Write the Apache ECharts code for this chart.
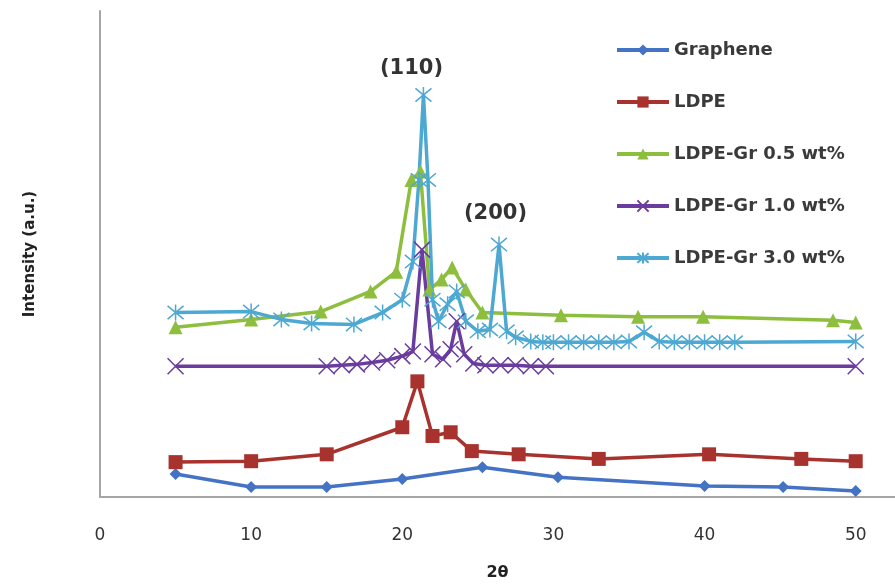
<!DOCTYPE html>
<html>
<head>
<meta charset="utf-8">
<script src="https://cdn.jsdelivr.net/npm/echarts/dist/echarts.min.js"></script>
<style>
html, body { margin: 0; background: #fff; }
#main { width: 895px; height: 586px; }
</style>
</head>
<body>
<div id="main"></div>
<script>
// 数据：[2θ, 强度]
var seriesNames = ['Graphene', 'LDPE', 'LDPE-Gr 0.5 wt%', 'LDPE-Gr 1.0 wt%', 'LDPE-Gr 3.0 wt%'];
var xTicks = [0, 10, 20, 30, 40, 50];

var graphene = [[5, 5.0], [10, 2.2], [15, 2.2], [20, 3.9], [25.3, 6.5], [30.3, 4.3], [40, 2.4], [45.2, 2.2], [50, 1.3]];
var ldpe = [[5, 7.6], [10, 7.8], [15, 9.3], [20, 15.2], [21, 25.2], [22, 13.3], [23.2, 14.1], [24.6, 10.0],
            [27.7, 9.3], [33, 8.3], [40.3, 9.3], [46.4, 8.3], [50, 7.8]];
var gr05 = [[5, 37.0], [10, 38.7], [14.6, 40.4], [17.9, 44.8], [19.6, 49.1], [20.6, 69.1], [21.2, 70.9],
            [21.8, 45.2], [22.6, 47.4], [23.3, 50.0], [24.2, 45.2], [25.3, 40.2], [30.5, 39.6], [35.6, 39.3],
            [39.9, 39.3], [48.5, 38.5], [50, 38.0]];
var gr10 = [[5, 28.5], [15, 28.5], [16, 28.7], [17, 28.9], [18, 29.3], [19, 29.8], [20, 30.7], [20.7, 31.7],
            [21.3, 53.9], [22, 31.1], [22.7, 30.0], [23.2, 32.2], [23.6, 38.3], [24.1, 31.1], [24.7, 29.1],
            [25.5, 28.7], [26.5, 28.7], [27.5, 28.7], [28.5, 28.5], [29.5, 28.5], [50, 28.5]];
var gr30 = [[5, 40.2], [10, 40.4], [12, 38.7], [14, 37.8], [16.8, 37.6], [18.7, 40.2], [20, 43.0], [20.7, 51.3],
            [21.1, 69.1], [21.4, 87.6], [21.7, 69.1], [22, 43.0], [22.4, 38.3], [23, 42.0], [23.6, 44.8],
            [24.2, 38.3], [25, 36.1], [25.8, 36.5], [26.4, 55.0], [26.9, 36.1], [27.5, 34.8], [28.5, 33.9],
            [29.3, 33.7], [30, 33.7], [31, 33.7], [32, 33.7], [33, 33.7], [34, 33.7], [35, 33.9], [36, 35.9],
            [37, 33.9], [38, 33.7], [39, 33.7], [40, 33.7], [41, 33.7], [42, 33.7], [50, 33.9]];

var seriesData = [graphene, ldpe, gr05, gr10, gr30];
var colors = ['#4472C4', '#A8322D', '#8DBE3E', '#6A3C9E', '#4DA8D2'];
var symbols = [
    'diamond',
    'rect',
    'triangle',
    'path://M0,0L10,10M10,0L0,10',
    'path://M0,0L10,10M10,0L0,10M5,-1L5,11'
];
var symbolSizes = [12, 14, 14, 16, 16];

var myChart = echarts.init(document.getElementById('main'));

var series = seriesNames.map(function (name, i) {
    return {
        name: name,
        type: 'line',
        data: seriesData[i],
        symbol: symbols[i],
        symbolSize: symbolSizes[i],
        showAllSymbol: true,
        lineStyle: { color: colors[i], width: 3.5 },
        itemStyle: { color: colors[i], borderColor: colors[i], borderWidth: i >= 3 ? 1.5 : 0 }
    };
});

option = {
    animation: false,
    color: colors,
    grid: { left: 100, right: 0, top: 11, bottom: 88 },
    legend: {
        orient: 'vertical',
        left: 610,
        top: 36,
        itemWidth: 52,
        itemHeight: 14,
        itemGap: 34,
        selectedMode: false,
        lineStyle: { width: 4 },
        textStyle: { fontFamily: 'DejaVu Sans', fontSize: 18, fontWeight: 'bold', color: '#3a3a3a' },
        data: seriesNames
    },
    xAxis: {
        type: 'value',
        min: 0,
        max: 52.6,
        interval: 10,
        name: '2θ',
        nameLocation: 'middle',
        nameGap: 68,
        nameTextStyle: { fontFamily: 'DejaVu Sans', fontSize: 16, fontWeight: 'bold', color: '#222' },
        axisLine: { lineStyle: { color: '#a6a6a6', width: 2 } },
        axisTick: { show: false },
        splitLine: { show: false },
        axisLabel: {
            showMaxLabel: false,
            margin: 30,
            fontFamily: 'DejaVu Sans',
            fontSize: 17,
            color: '#333',
            formatter: function (v) { return xTicks.indexOf(v) >= 0 ? String(v) : ''; }
        }
    },
    yAxis: {
        type: 'value',
        min: 0,
        max: 105.9,
        name: 'Intensity (a.u.)',
        nameLocation: 'middle',
        nameRotate: 90,
        nameGap: 62,
        nameTextStyle: { fontFamily: 'DejaVu Sans', fontSize: 15, fontWeight: 'bold', color: '#222' },
        axisLine: { show: true, lineStyle: { color: '#a6a6a6', width: 2 } },
        axisTick: { show: false },
        axisLabel: { show: false },
        splitLine: { show: false }
    },
    graphic: [
        { type: 'text', left: 380, top: 58, style: { text: '(110)', font: 'bold 21px DejaVu Sans', fill: '#333' } },
        { type: 'text', left: 464, top: 203, style: { text: '(200)', font: 'bold 21px DejaVu Sans', fill: '#333' } }
    ],
    series: series
};
myChart.setOption(option);
</script>
</body>
</html>
